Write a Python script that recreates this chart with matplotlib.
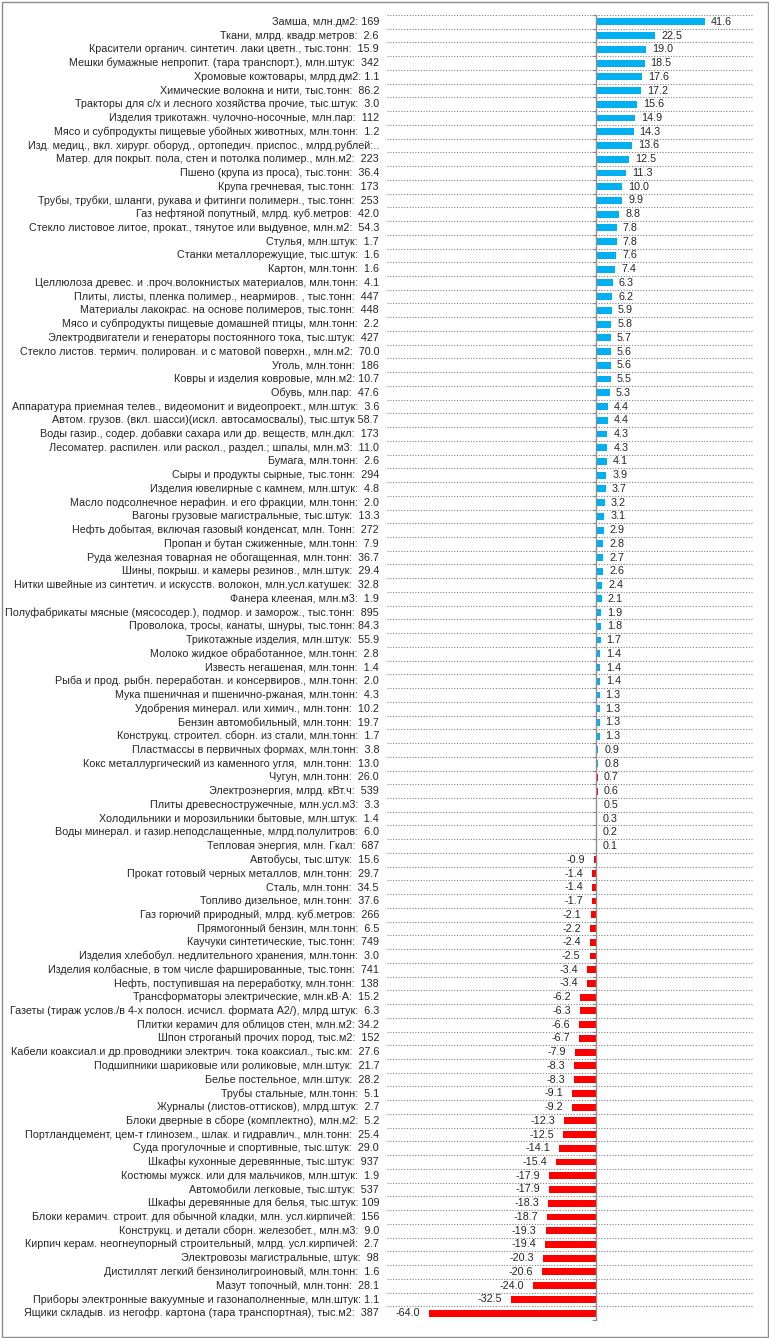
import matplotlib
matplotlib.use("Agg")
import matplotlib.pyplot as plt
from matplotlib.patches import Rectangle
import matplotlib.transforms as mtrans

labels = [
    "Замша, млн.дм2: 169",
    "Ткани, млрд. квадр.метров:  2.6",
    "Красители органич. синтетич. лаки цветн., тыс.тонн:  15.9",
    "Мешки бумажные непропит. (тара транспорт.), млн.штук:  342",
    "Хромовые кожтовары, млрд.дм2: 1.1",
    "Химические волокна и нити, тыс.тонн:  86.2",
    "Тракторы для с/х и лесного хозяйства прочие, тыс.штук:  3.0",
    "Изделия трикотажн. чулочно-носочные, млн.пар:  112",
    "Мясо и субпродукты пищевые убойных животных, млн.тонн:  1.2",
    "Изд. медиц., вкл. хирург. оборуд., ортопедич. приспос., млрд.рублей:..",
    "Матер. для покрыт. пола, стен и потолка полимер., млн.м2:  223",
    "Пшено (крупа из проса), тыс.тонн:  36.4",
    "Крупа гречневая, тыс.тонн:  173",
    "Трубы, трубки, шланги, рукава и фитинги полимерн., тыс.тонн:  253",
    "Газ нефтяной попутный, млрд. куб.метров:  42.0",
    "Стекло листовое литое, прокат., тянутое или выдувное, млн.м2:  54.3",
    "Стулья, млн.штук:  1.7",
    "Станки металлорежущие, тыс.штук:  1.6",
    "Картон, млн.тонн:  1.6",
    "Целлюлоза древес. и .проч.волокнистых материалов, млн.тонн:  4.1",
    "Плиты, листы, пленка полимер., неармиров. , тыс.тонн:  447",
    "Материалы лакокрас. на основе полимеров, тыс.тонн:  448",
    "Мясо и субпродукты пищевые домашней птицы, млн.тонн:  2.2",
    "Электродвигатели и генераторы постоянного тока, тыс.штук:  427",
    "Стекло листов. термич. полирован. и с матовой поверхн., млн.м2:  70.0",
    "Уголь, млн.тонн:  186",
    "Ковры и изделия ковровые, млн.м2: 10.7",
    "Обувь, млн.пар:  47.6",
    "Аппаратура приемная телев., видеомонит и видеопроект., млн.штук:  3.6",
    "Автом. грузов. (вкл. шасси)(искл. автосамосвалы), тыс.штук 58.7",
    "Воды газир., содер. добавки сахара или др. веществ, млн.дкл:  173",
    "Лесоматер. распилен. или раскол., раздел.; шпалы, млн.м3:  11.0",
    "Бумага, млн.тонн:  2.6",
    "Сыры и продукты сырные, тыс.тонн:  294",
    "Изделия ювелирные с камнем, млн.штук:  4.8",
    "Масло подсолнечное нерафин. и его фракции, млн.тонн:  2.0",
    "Вагоны грузовые магистральные, тыс.штук:  13.3",
    "Нефть добытая, включая газовый конденсат, млн. Тонн:  272",
    "Пропан и бутан сжиженные, млн.тонн:  7.9",
    "Руда железная товарная не обогащенная, млн.тонн:  36.7",
    "Шины, покрыш. и камеры резинов., млн.штук:  29.4",
    "Нитки швейные из синтетич. и искусств. волокон, млн.усл.катушек:  32.8",
    "Фанера клееная, млн.м3:  1.9",
    "Полуфабрикаты мясные (мясосодер.), подмор. и заморож., тыс.тонн:  895",
    "Проволока, тросы, канаты, шнуры, тыс.тонн: 84.3",
    "Трикотажные изделия, млн.штук:  55.9",
    "Молоко жидкое обработанное, млн.тонн:  2.8",
    "Известь негашеная, млн.тонн:  1.4",
    "Рыба и прод. рыбн. переработан. и консервиров., млн.тонн:  2.0",
    "Мука пшеничная и пшенично-ржаная, млн.тонн:  4.3",
    "Удобрения минерал. или химич., млн.тонн:  10.2",
    "Бензин автомобильный, млн.тонн:  19.7",
    "Конструкц. строител. сборн. из стали, млн.тонн:  1.7",
    "Пластмассы в первичных формах, млн.тонн:  3.8",
    "Кокс металлургический из каменного угля,  млн.тонн:  13.0",
    "Чугун, млн.тонн:  26.0",
    "Электроэнергия, млрд. кВт.ч:  539",
    "Плиты древесностружечные, млн.усл.м3:  3.3",
    "Холодильники и морозильники бытовые, млн.штук:  1.4",
    "Воды минерал. и газир.неподслащенные, млрд.полулитров:  6.0",
    "Тепловая энергия, млн. Гкал:  687",
    "Автобусы, тыс.штук:  15.6",
    "Прокат готовый черных металлов, млн.тонн:  29.7",
    "Сталь, млн.тонн:  34.5",
    "Топливо дизельное, млн.тонн:  37.6",
    "Газ горючий природный, млрд. куб.метров:  266",
    "Прямогонный бензин, млн.тонн:  6.5",
    "Каучуки синтетические, тыс.тонн:  749",
    "Изделия хлебобул. недлительного хранения, млн.тонн:  3.0",
    "Изделия колбасные, в том числе фаршированные, тыс.тонн:  741",
    "Нефть, поступившая на переработку, млн.тонн:  138",
    "Трансформаторы электрические, млн.кВ·А:  15.2",
    "Газеты (тираж услов./в 4-х полосн. исчисл. формата А2/), млрд.штук:  6.3",
    "Плитки керамич для облицов стен, млн.м2: 34.2",
    "Шпон строганый прочих пород, тыс.м2:  152",
    "Кабели коаксиал.и др.проводники электрич. тока коаксиал., тыс.км:  27.6",
    "Подшипники шариковые или роликовые, млн.штук:  21.7",
    "Белье постельное, млн.штук:  28.2",
    "Трубы стальные, млн.тонн:  5.1",
    "Журналы (листов-оттисков), млрд.штук:  2.7",
    "Блоки дверные в сборе (комплектно), млн.м2:  5.2",
    "Портландцемент, цем-т глинозем., шлак. и гидравлич., млн.тонн:  25.4",
    "Суда прогулочные и спортивные, тыс.штук:  29.0",
    "Шкафы кухонные деревянные, тыс.штук:  937",
    "Костюмы мужск. или для мальчиков, млн.штук:  1.9",
    "Автомобили легковые, тыс.штук:  537",
    "Шкафы деревянные для белья, тыс.штук: 109",
    "Блоки керамич. строит. для обычной кладки, млн. усл.кирпичей:  156",
    "Конструкц. и детали сборн. железобет., млн.м3:  9.0",
    "Кирпич керам. неогнеупорный строительный, млрд. усл.кирпичей:  2.7",
    "Электровозы магистральные, штук:  98",
    "Дистиллят легкий бензинолигроиновый, млн.тонн:  1.6",
    "Мазут топочный, млн.тонн:  28.1",
    "Приборы электронные вакуумные и газонаполненные, млн.штук: 1.1",
    "Ящики складыв. из негофр. картона (тара транспортная), тыс.м2:  387",
]

values = [
    41.6, 22.5, 19.0, 18.5, 17.6, 17.2, 15.6, 14.9, 14.3, 13.6,
    12.5, 11.3, 10.0, 9.9, 8.8, 7.8, 7.8, 7.6, 7.4, 6.3,
    6.2, 5.9, 5.8, 5.7, 5.6, 5.6, 5.5, 5.3, 4.4, 4.4,
    4.3, 4.3, 4.1, 3.9, 3.7, 3.2, 3.1, 2.9, 2.8, 2.7,
    2.6, 2.4, 2.1, 1.9, 1.8, 1.7, 1.4, 1.4, 1.4, 1.3,
    1.3, 1.3, 1.3, 0.9, 0.8, 0.7, 0.6, 0.5, 0.3, 0.2,
    0.1, -0.9, -1.4, -1.4, -1.7, -2.1, -2.2, -2.4, -2.5, -3.4,
    -3.4, -6.2, -6.3, -6.6, -6.7, -7.9, -8.3, -8.3, -9.1, -9.2,
    -12.3, -12.5, -14.1, -15.4, -17.9, -17.9, -18.3, -18.7, -19.3, -19.4,
    -20.3, -20.6, -24.0, -32.5, -64.0,
]

plt.rcParams["font.family"] = ["Liberation Sans", "DejaVu Sans"]

BLUE = "#00B0F0"
RED = "#FF0000"
TXT = "#262626"

W, H = 769, 1338
fig = plt.figure(figsize=(W / 100, H / 100), dpi=100)
fig.patch.set_facecolor("white")
fig.patches.append(Rectangle((1.5 / W, 1.5 / H), (W - 3) / W, (H - 3) / H,
                             transform=fig.transFigure, fill=False,
                             edgecolor="#8c8c8c", linewidth=1.0))

left, right, top, bottom = 387, 753, 15, 1320
ax = fig.add_axes([left / W, 1 - bottom / H, (right - left) / W, (bottom - top) / H])

# fit the font size so that the widest label fits in the left margin
renderer = fig.canvas.get_renderer()
probe = fig.text(0, 0, max(labels, key=len), fontsize=10)
widths = []
for lab in labels:
    probe.set_text(lab)
    widths.append(probe.get_window_extent(renderer).width)
probe.remove()
fs = min(7.8, 10 * 372 / max(widths))

n = len(values)
ys = list(range(n))
colors = [BLUE if v >= 0.75 else RED for v in values]
ax.barh(ys, values, height=0.5, color=colors, zorder=3)

ax.set_xlim(-80, 60)
ax.set_ylim(n - 0.5, -0.5)

for b in range(n + 1):
    ax.axhline(b - 0.5, color="#7f7f7f", linestyle=(0, (1, 1.5)), linewidth=0.8, zorder=1)

for s in ["top", "right", "bottom"]:
    ax.spines[s].set_visible(False)
ax.spines["left"].set_position(("data", 0))
ax.spines["left"].set_color("#8c8c8c")
ax.spines["left"].set_linewidth(1.0)
ax.spines["left"].set_zorder(4)
ax.set_xticks([])
ax.set_yticks([b - 0.5 for b in range(n + 1)])
ax.tick_params(axis="y", direction="out", length=3, color="#8c8c8c", labelleft=False)

trans = mtrans.blended_transform_factory(ax.transAxes, ax.transData)
off_lab = mtrans.offset_copy(trans, fig=fig, x=-8, y=0, units="dots")
for y, lab in zip(ys, labels):
    ax.text(0, y, lab, transform=off_lab, ha="right", va="center",
            fontsize=fs, color=TXT)

for y, v in zip(ys, values):
    if v >= 0:
        t = mtrans.offset_copy(ax.transData, fig=fig, x=6, y=0, units="dots")
        ax.text(v, y, f"{v:.1f}", transform=t, ha="left", va="center",
                fontsize=fs, color=TXT, zorder=5)
    else:
        t = mtrans.offset_copy(ax.transData, fig=fig, x=-9, y=0, units="dots")
        ax.text(v, y, f"{v:.1f}", transform=t, ha="right", va="center",
                fontsize=fs, color=TXT, zorder=5)

fig.savefig("out.png", dpi=100)
